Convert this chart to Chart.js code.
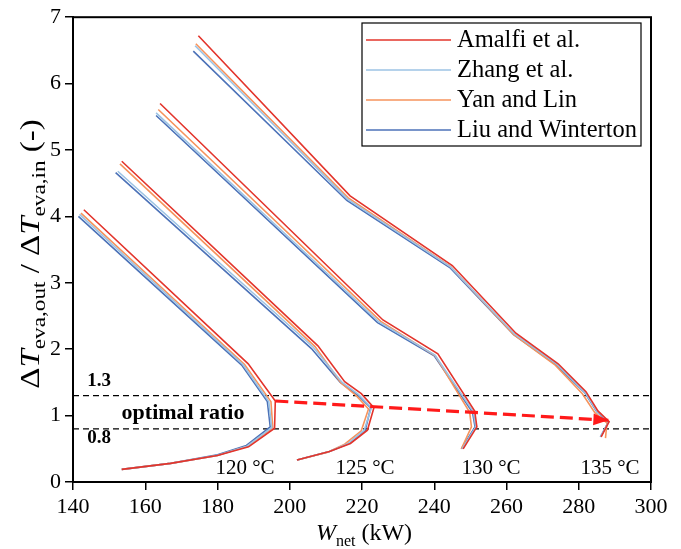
<!DOCTYPE html>
<html><head><meta charset="utf-8">
<script src="https://cdn.jsdelivr.net/npm/chart.js@4/dist/chart.umd.min.js"></script>
<style>html,body{margin:0;padding:0;background:#fff;}#wrap{width:681px;height:549px;position:relative;}</style>
</head><body><div id="wrap"><canvas id="c" width="681" height="549" style="width:681px;height:549px"></canvas></div>
<script>
// ---------- data ----------
const modelNames = ['Amalfi et al.', 'Zhang et al.', 'Yan and Lin', 'Liu and Winterton'];
const temperatureLabels = ['120 °C', '125 °C', '130 °C', '135 °C'];
const xTicks = [140, 160, 180, 200, 220, 240, 260, 280, 300];
const yTicks = [0, 1, 2, 3, 4, 5, 6, 7];
const optimalBounds = [1.3, 0.8];
const boundLabels = ['1.3', '0.8'];
const arrowFrom = [196.0, 1.22];
const arrowTo = [288.2, 0.93];

// [W_net (kW), ratio]
const amalfi120 = [[143.0,4.10],[188.5,1.78],[196.0,1.22],[195.8,0.81],[188.6,0.53],[180.0,0.40],[167.0,0.28],[153.5,0.19]];
const amalfi125 = [[153.5,4.83],[207.8,2.05],[215.2,1.51],[219.8,1.33],[223.3,1.12],[221.5,0.78],[216.8,0.58],[211.0,0.46],[202.0,0.33]];
const amalfi130 = [[164.1,5.70],[225.8,2.44],[241.0,1.93],[251.2,1.07],[251.8,0.83],[248.0,0.50]];
const amalfi135 = [[174.7,6.72],[216.7,4.31],[245.0,3.26],[262.6,2.24],[274.3,1.78],[282.0,1.36],[285.3,1.07],[288.4,0.91],[286.2,0.68]];

const zhang120 = [[141.8,4.03],[187.0,1.77],[194.2,1.21],[195.0,0.82],[188.2,0.54],[180.0,0.40],[167.0,0.28],[153.5,0.19]];
const zhang125 = [[152.4,4.68],[206.5,2.03],[214.5,1.50],[219.0,1.32],[222.6,1.12],[220.6,0.78],[216.2,0.58],[211.0,0.46],[202.0,0.33]];
const zhang130 = [[163.0,5.56],[224.7,2.41],[240.2,1.91],[250.8,1.06],[251.5,0.83],[247.7,0.50]];
const zhang135 = [[173.8,6.57],[216.0,4.26],[244.5,3.24],[262.2,2.23],[274.0,1.77],[281.7,1.35],[285.1,1.06],[288.3,0.91],[286.0,0.68]];

const yan120 = [[142.2,4.05],[187.5,1.77],[194.8,1.21],[195.3,0.82],[188.3,0.54],[180.0,0.40],[167.0,0.28],[153.5,0.19]];
const yan125 = [[153.0,4.79],[207.0,2.04],[214.2,1.49],[218.4,1.30],[221.8,1.10],[219.8,0.77],[215.2,0.57],[210.5,0.45],[202.0,0.33]];
const yan130 = [[163.6,5.61],[225.2,2.42],[240.3,1.90],[249.8,1.05],[250.3,0.83],[247.5,0.50]];
const yan135 = [[174.0,6.60],[216.2,4.28],[244.6,3.24],[262.0,2.22],[273.5,1.76],[281.0,1.33],[284.5,1.04],[287.8,0.89],[287.4,0.66]];

const liu120 = [[141.5,4.00],[186.7,1.76],[193.8,1.21],[194.6,0.83],[188.0,0.55],[180.0,0.41],[167.0,0.28],[153.5,0.19]];
const liu125 = [[151.8,4.66],[206.0,2.01],[214.0,1.50],[218.8,1.31],[222.4,1.12],[220.9,0.78],[216.3,0.58],[211.0,0.46],[202.0,0.33]];
const liu130 = [[163.0,5.52],[224.3,2.40],[240.0,1.90],[250.6,1.05],[251.3,0.83],[247.5,0.50]];
const liu135 = [[173.3,6.49],[215.8,4.24],[244.3,3.23],[262.0,2.22],[273.8,1.76],[281.6,1.35],[285.0,1.06],[288.2,0.90],[286.0,0.68]];

// ---------- styles ----------
const FONT = "'Liberation Serif','DejaVu Serif',serif";
const modelColors = ['#e3342b', '#9cc3e4', '#f6935c', '#4c72b8'];
const tempLabelX = [245, 365, 491, 610];
const modelSeries = [
  [amalfi120, amalfi125, amalfi130, amalfi135],
  [zhang120, zhang125, zhang130, zhang135],
  [yan120, yan125, yan130, yan135],
  [liu120, liu125, liu130, liu135]
];
const toPts = arr => arr.map(p => ({x: p[0], y: p[1]}));

const datasets = [];
optimalBounds.forEach(v => datasets.push({
  label: 'bound', data: [{x: 140, y: v}, {x: 300, y: v}], showLine: true,
  borderColor: '#000', borderWidth: 1.3, borderDash: [6, 4], pointRadius: 0, order: 5
}));
for (let m = 0; m < modelSeries.length; m++) {
  modelSeries[m].forEach((s) => datasets.push({
    label: modelNames[m], data: toPts(s), showLine: true, borderColor: modelColors[m],
    borderWidth: 1.6, pointRadius: 0, tension: 0, order: 1 + m
  }));
}
datasets.push({
  label: 'arrow', data: [{x: arrowFrom[0], y: arrowFrom[1]}, {x: arrowTo[0], y: arrowTo[1]}],
  showLine: true, borderColor: '#ff1a1a', borderWidth: 3.2, borderDash: [13, 6], pointRadius: 0, order: 0
});

const deco = {
  id: 'deco',
  afterDatasetsDraw(chart) {
    const {ctx, chartArea: a, scales: {x, y}} = chart;
    ctx.save();
    const x1 = x.getPixelForValue(arrowFrom[0]), y1 = y.getPixelForValue(arrowFrom[1]);
    const x2 = x.getPixelForValue(arrowTo[0]), y2 = y.getPixelForValue(arrowTo[1]);
    const ang = Math.atan2(y2 - y1, x2 - x1);
    ctx.fillStyle = '#ff1a1a';
    ctx.beginPath();
    ctx.moveTo(x2, y2);
    ctx.lineTo(x2 - 15 * Math.cos(ang) + 6 * Math.sin(ang), y2 - 15 * Math.sin(ang) - 6 * Math.cos(ang));
    ctx.lineTo(x2 - 15 * Math.cos(ang) - 6 * Math.sin(ang), y2 - 15 * Math.sin(ang) + 6 * Math.cos(ang));
    ctx.closePath(); ctx.fill();
    ctx.strokeStyle = '#000'; ctx.lineWidth = 2;
    ctx.strokeRect(a.left, a.top, a.right - a.left, a.bottom - a.top);
    ctx.fillStyle = '#000';
    ctx.font = "bold 19px " + FONT; ctx.textAlign = 'center'; ctx.textBaseline = 'middle';
    ctx.fillText(boundLabels[0], 99, y.getPixelForValue(optimalBounds[0]) - 15);
    ctx.fillText(boundLabels[1], 99, y.getPixelForValue(optimalBounds[1]) + 9);
    ctx.font = "bold 22px " + FONT;
    ctx.fillText('optimal ratio', 183, (y.getPixelForValue(optimalBounds[0]) + y.getPixelForValue(optimalBounds[1])) / 2 + 1);
    ctx.font = "21px " + FONT; ctx.textBaseline = 'alphabetic';
    temperatureLabels.forEach((t, i) => ctx.fillText(t, tempLabelX[i], 474));
    ctx.fillStyle = '#fff';
    ctx.fillRect(362, 23, 279, 123);
    ctx.strokeStyle = '#000'; ctx.lineWidth = 1.2;
    ctx.strokeRect(362, 23, 279, 123);
    ctx.font = "24.5px " + FONT; ctx.textAlign = 'left'; ctx.textBaseline = 'middle';
    modelNames.forEach((n, i) => {
      const yy = 40 + i * 30;
      ctx.strokeStyle = modelColors[i]; ctx.lineWidth = 1.6;
      ctx.beginPath(); ctx.moveTo(366, yy); ctx.lineTo(451, yy); ctx.stroke();
      ctx.fillStyle = '#000'; ctx.fillText(n, 457, yy + 1);
    });
    const drawRich = (parts, cx, cy, stretch) => {
      let w = 0;
      parts.forEach(p => { ctx.font = p.f; w += ctx.measureText(p.t).width; });
      ctx.save();
      ctx.translate(cx, cy); ctx.scale(stretch, 1);
      let xx = -w / 2;
      ctx.textAlign = 'left'; ctx.textBaseline = 'alphabetic';
      parts.forEach(p => { ctx.font = p.f; ctx.fillText(p.t, xx, (p.dy || 0)); xx += ctx.measureText(p.t).width; });
      ctx.restore();
    };
    ctx.fillStyle = '#000';
    const main = "24px " + FONT, ital = "italic 24px " + FONT, sub = "16px " + FONT;
    drawRich([{t: 'W', f: ital}, {t: 'net', f: sub, dy: 6}, {t: ' (kW)', f: main}], 364, 540, 1);
    const ymain = "27px " + FONT, yital = "italic 27px " + FONT, ysub = "19px " + FONT;
    ctx.save();
    ctx.translate(39, 254); ctx.rotate(-Math.PI / 2);
    drawRich([{t: 'Δ', f: ymain}, {t: 'T', f: yital}, {t: 'eva,out', f: ysub, dy: 6}, {t: ' / Δ', f: ymain},
              {t: 'T', f: yital}, {t: 'eva,in', f: ysub, dy: 6}, {t: ' (-)', f: ymain}], 0, 0, 1.22);
    ctx.restore();
    ctx.restore();
  }
};

new Chart(document.getElementById('c'), {
  type: 'scatter',
  data: {datasets},
  options: {
    responsive: false, animation: false, devicePixelRatio: 1,
    layout: {padding: {top: 16, right: 30, left: 0, bottom: 0}},
    plugins: {legend: {display: false}, tooltip: {enabled: false}},
    scales: {
      x: {
        type: 'linear', min: 140, max: 300,
        afterFit: s => { s.height = 67; },
        afterBuildTicks: s => { s.ticks = xTicks.map(v => ({value: v})); },
        ticks: {color: '#000', font: {family: FONT, size: 22}, padding: 4, maxRotation: 0},
        grid: {display: true, drawOnChartArea: false, drawTicks: true, tickLength: 8, color: '#000', lineWidth: 1.5},
        border: {display: true, color: '#000', width: 2}
      },
      y: {
        type: 'linear', min: 0, max: 7,
        afterFit: s => { s.width = 73; },
        afterBuildTicks: s => { s.ticks = yTicks.map(v => ({value: v})); },
        ticks: {color: '#000', font: {family: FONT, size: 22}, padding: 4},
        grid: {display: true, drawOnChartArea: false, drawTicks: true, tickLength: 8, color: '#000', lineWidth: 1.5},
        border: {display: true, color: '#000', width: 2}
      }
    }
  },
  plugins: [deco]
});
</script>
</body></html>
